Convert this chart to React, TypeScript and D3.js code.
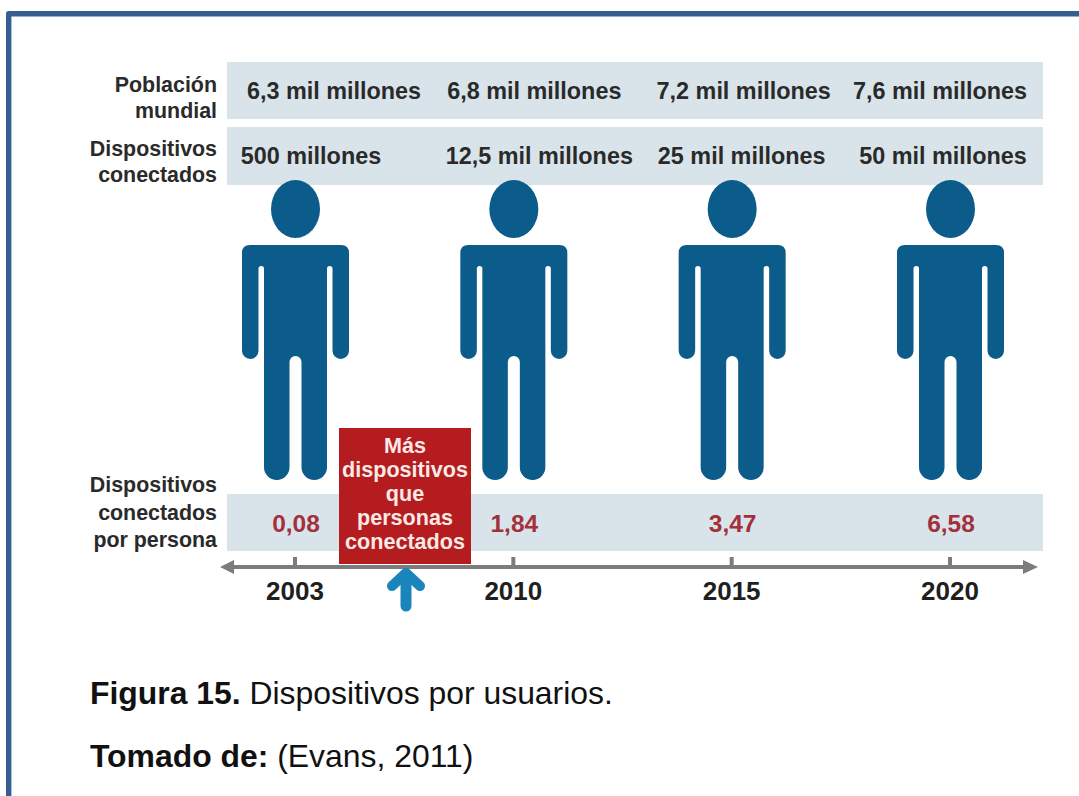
import React from "react";
import * as d3 from "d3";

const years = ["2003", "2010", "2015", "2020"];
const population = ["6,3 mil millones", "6,8 mil millones", "7,2 mil millones", "7,6 mil millones"];
const devices = ["500 millones", "12,5 mil millones", "25 mil millones", "50 mil millones"];
const perPerson = [0.08, 1.84, 3.47, 6.58];
const calloutLines = ["Más", "dispositivos", "que", "personas", "conectados"];
const populationLabel = ["Población", "mundial"];
const devicesLabel = ["Dispositivos", "conectados"];
const perPersonLabel = ["Dispositivos", "conectados", "por persona"];

const W = 1079;
const H = 796;
const SANS = "'Liberation Sans', Arial, sans-serif";
const INK = "#2a2a2a";
const BAND = "#d9e4ea";
const PERSON = "#0b5c8a";
const AXIS = "#7c7c7c";

// The year axis runs at even spacing, since the dates are not evenly apart.
const x = d3.scalePoint<string>().domain(years).range([295, 950]);
const commaFormat = d3.formatLocale({
  decimal: ",",
  thousands: ".",
  grouping: [3],
  currency: ["", ""],
})
  .format(".2f");

// Label nudges away from the year centres, in column order.
const populationShift = [39, 21, 12, -10];
const devicesShift = [16, 26, 10, -7];

// Pictogram of a standing person, drawn around its vertical axis at cx = 0.
function personPath(): string {
  const p = d3.path();
  const top = 245;
  const r = 8;
  const armOuter = 53.5;
  const armInner = 37;
  const torso = 31.5;
  const armBottom = 359;
  const armpit = 266;
  const crotch = 356;
  const legGap = 6;
  const legBottom = 480;
  const elbow = (armOuter - armInner) / 2;
  const pit = (armInner - torso) / 2;
  const leg = (torso - legGap) / 2;
  p.moveTo(-armOuter + r, top);
  p.lineTo(armOuter - r, top);
  p.quadraticCurveTo(armOuter, top, armOuter, top + r);
  p.lineTo(armOuter, armBottom - elbow);
  p.arc(armOuter - elbow, armBottom - elbow, elbow, 0, Math.PI);
  p.lineTo(armInner, armpit + pit);
  p.arc(torso + pit, armpit + pit, pit, 0, Math.PI, true);
  p.lineTo(torso, legBottom - leg);
  p.arc(torso - leg, legBottom - leg, leg, 0, Math.PI);
  p.lineTo(legGap, crotch + legGap);
  p.arc(0, crotch + legGap, legGap, 0, Math.PI, true);
  p.lineTo(-legGap, legBottom - leg);
  p.arc(-torso + leg, legBottom - leg, leg, 0, Math.PI);
  p.lineTo(-torso, armpit + pit);
  p.arc(-torso - pit, armpit + pit, pit, 0, Math.PI, true);
  p.lineTo(-armInner, armBottom - elbow);
  p.arc(-armOuter + elbow, armBottom - elbow, elbow, 0, Math.PI);
  p.lineTo(-armOuter, top + r);
  p.quadraticCurveTo(-armOuter, top, -armOuter + r, top);
  p.closePath();
  return p.toString();
}

function arrowUp(cx: number): string {
  const p = d3.path();
  p.moveTo(cx, 606);
  p.lineTo(cx, 575);
  return p.toString();
}

function arrowHead(cx: number): string {
  const p = d3.path();
  p.moveTo(cx - 14, 586);
  p.lineTo(cx, 573);
  p.lineTo(cx + 14, 586);
  return p.toString();
}

function RowLabel({ lines, baselines }: { lines: string[]; baselines: number[] }) {
  return (
    <>
      {lines.map((line, i) => (
        <text key={line} x={217} y={baselines[i]} textAnchor="end" fontSize={21.4} fontWeight={700} fill={INK}>
          {line}
        </text>
      ))}
    </>
  );
}

export default function App() {
  const body = personPath();
  const calloutX = 405;
  return (
    <svg
      width={W}
      height={H}
      viewBox={`0 0 ${W} ${H}`}
      style={{ position: "absolute", left: 0, top: 0, fontFamily: SANS }}
    >
      <rect width={W} height={H} fill="#ffffff" />

      {/* page frame: only the top and left edges fall inside the crop */}
      <path d={`M8.7 ${H} V13.7 H${W}`} fill="none" stroke="#365f91" strokeWidth={5.4} strokeLinejoin="round" />

      {/* shaded rows */}
      <rect x={227} y={62} width={816} height={57} fill={BAND} />
      <rect x={227} y={127} width={816} height={58} fill={BAND} />
      <rect x={227} y={494} width={816} height={57} fill={BAND} />

      <RowLabel lines={populationLabel} baselines={[92, 118]} />
      <RowLabel lines={devicesLabel} baselines={[156, 182]} />
      <RowLabel lines={perPersonLabel} baselines={[492, 520, 547]} />

      {years.map((year, i) => (
        <g key={year}>
          <text x={x(year)! + populationShift[i]} y={99} textAnchor="middle" fontSize={23.4} fontWeight={700} fill={INK}>
            {population[i]}
          </text>
          <text x={x(year)! + devicesShift[i]} y={163.5} textAnchor="middle" fontSize={23.4} fontWeight={700} fill={INK}>
            {devices[i]}
          </text>
          <g transform={`translate(${x(year)! + 0.5},0)`}>
            <ellipse cx={0} cy={209} rx={24.5} ry={29} fill={PERSON} />
            <path d={body} fill={PERSON} />
          </g>
          <text x={x(year)! + 1} y={532} textAnchor="middle" fontSize={24.5} fontWeight={700} fill="#a3303c">
            {commaFormat(perPerson[i])}
          </text>
          <line x1={x(year)!} x2={x(year)!} y1={557} y2={567} stroke={AXIS} strokeWidth={4} />
          <text x={x(year)!} y={600} textAnchor="middle" fontSize={26} fontWeight={700} fill="#1f1f1f">
            {year}
          </text>
        </g>
      ))}

      {/* time axis with arrowheads on both ends */}
      <line x1={232} x2={1026} y1={567} y2={567} stroke={AXIS} strokeWidth={4} />
      <path d="M220 567 L234 560 V574 Z" fill={AXIS} />
      <path d="M1038 567 L1023 560 V574 Z" fill={AXIS} />

      {/* callout marking the year devices overtook people */}
      <rect x={339} y={428} width={132} height={136} fill="#b51c1f" />
      {calloutLines.map((line, i) => (
        <text key={line} x={calloutX} y={453 + i * 24} textAnchor="middle" fontSize={21.6} fontWeight={700} fill="#fbe9e6">
          {line}
        </text>
      ))}
      <path d={arrowUp(calloutX + 1)} fill="none" stroke="#1a85bb" strokeWidth={11} strokeLinecap="round" />
      <path d={arrowHead(calloutX + 1)} fill="none" stroke="#1a85bb" strokeWidth={10} strokeLinecap="round" strokeLinejoin="round" />

      {/* caption */}
      <text x={90} y={704} fontSize={31.9} fill="#111111">
        <tspan fontWeight={700}>Figura 15.</tspan> Dispositivos por usuarios.
      </text>
      <text x={90} y={767} fontSize={31.9} fill="#111111">
        <tspan fontWeight={700}>Tomado de:</tspan> (Evans, 2011)
      </text>
    </svg>
  );
}
